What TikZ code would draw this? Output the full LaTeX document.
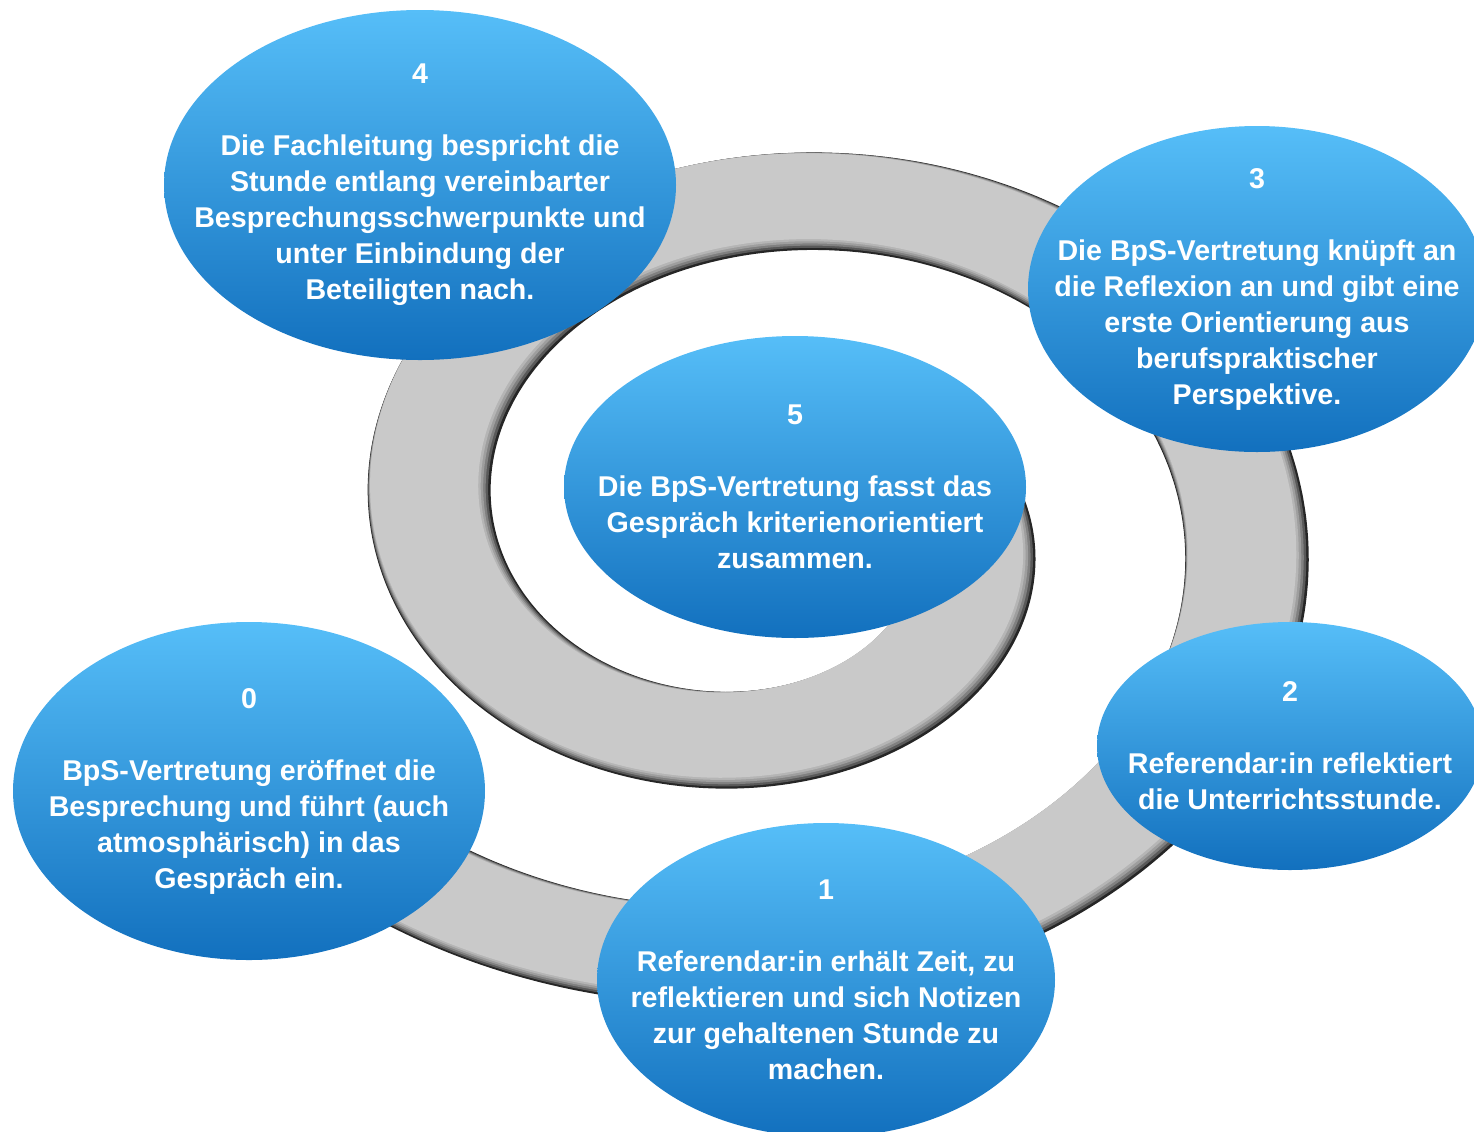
\documentclass[tikz,border=0pt]{standalone}
\usepackage{fontspec}
\setmainfont{Liberation Sans}
\usetikzlibrary{shapes.geometric}

\definecolor{bandgrey}{RGB}{201,201,201}
\definecolor{bluetop}{RGB}{86,190,248}
\definecolor{bluebot}{RGB}{18,112,190}

% one layer of the spiral band: #1 fill, #2 inset, #3 shift to the upper left
\newcommand{\spiralband}[3]{%
  \fill[#1] plot[domain=-150:380,samples=180,smooth,variable=\t]
      ({769.75-#3+(537.25-#2-0.764*\t)*cos(\t)},{524.6-#3-0.791*(537.25-#2-0.764*\t)*sin(\t)})
    -- plot[domain=380:-150,samples=180,smooth,variable=\t]
      ({769.75-#3+(413.25+#2-0.764*\t)*cos(\t)},{524.6-#3-0.791*(413.25+#2-0.764*\t)*sin(\t)})
    -- cycle;}

\tikzset{
  stage/.style={ellipse,inner sep=0pt,draw=none,top color=bluetop,bottom color=bluebot},
  words/.style={text=white,align=center,inner sep=0pt,font=\bfseries\fontsize{14.3}{18}\selectfont},
}

\begin{document}
\begin{tikzpicture}[x=0.5pt,y=-0.5pt]

    \useasboundingbox (0,0) rectangle (1474,1131);
    \clip (0,0) rectangle (1474,1131);

    % spiral band, dark rim first, then lighter layers
    \foreach \c/\i/\s in {85/0/0,65/1.5/1,50/3/2,38/4.5/3,29/6/4}
      \spiralband{black!\c}{\i}{\s};
    \spiralband{bandgrey}{7.5}{5}

    % stages
    \node[stage,minimum width=256pt,minimum height=175pt] (s4) at (420,185) {};
    \node[stage,minimum width=229pt,minimum height=163pt] (s3) at (1257,289) {};
    \node[stage,minimum width=231pt,minimum height=151pt] (s5) at (795,487) {};
    \node[stage,minimum width=236pt,minimum height=169pt] (s0) at (249,791) {};
    \node[stage,minimum width=193pt,minimum height=124pt] (s2) at (1290,746) {};
    \node[stage,minimum width=229pt,minimum height=157pt] (s1) at (826,980) {};

    % texts
    \node[words] (t4) at (s4) {4\\[18pt]Die Fachleitung bespricht die\\Stunde entlang vereinbarter\\Besprechungsschwerpunkte und\\unter Einbindung der\\Beteiligten nach.};
    \node[words] (t3) at (s3) {3\\[18pt]Die BpS-Vertretung knüpft an\\die Reflexion an und gibt eine\\erste Orientierung aus\\berufspraktischer\\Perspektive.};
    \node[words] (t5) at (s5) {5\\[18pt]Die BpS-Vertretung fasst das\\Gespräch kriterienorientiert\\zusammen.};
    \node[words] (t0) at (s0) {0\\[18pt]BpS-Vertretung eröffnet die\\Besprechung und führt (auch\\atmosphärisch) in das\\Gespräch ein.};
    \node[words] (t2) at (s2) {2\\[18pt]Referendar:in reflektiert\\die Unterrichtsstunde.};
    \node[words] (t1) at (s1) {1\\[18pt]Referendar:in erhält Zeit, zu\\reflektieren und sich Notizen\\zur gehaltenen Stunde zu\\machen.};

\end{tikzpicture}
\end{document}
